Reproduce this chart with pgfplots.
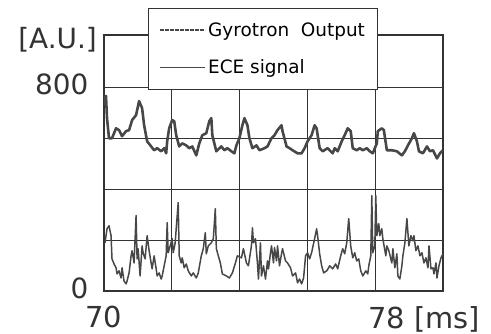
\documentclass[border=0pt]{standalone}
\usepackage{fontspec}
\setmainfont{DejaVu Sans}
\usepackage{pgfplots}
\pgfplotsset{compat=1.18}
\definecolor{trace}{gray}{0.28}
\definecolor{frame}{gray}{0.2}
\begin{document}
\begin{tikzpicture}
\useasboundingbox (-104bp,-43bp) rectangle (387bp,291bp);
\begin{axis}[
  at={(0,0)}, anchor=south west,
  width=339bp, height=256bp, scale only axis,
  clip mode=individual,
  xmin=70, xmax=78, ymin=0, ymax=1004,
  xtick={70,71.6,73.2,74.8,76.4,78},
  xticklabels={70,,,,,},
  ytick={0,200,400,600,800},
  yticklabels={0,,,,800},
  grid=major,
  major grid style={frame, line width=1.0pt},
  axis line style={frame, line width=1.6pt},
  major tick length=0pt,
  /pgf/number format/assume math mode=true,
  xticklabel style={font=\fontsize{29}{31}\selectfont, text=frame, anchor=base, yshift=-36bp},
  yticklabel style={font=\fontsize{28}{30}\selectfont, text=frame, xshift=-12bp, yshift=3bp},
  legend style={at={(rel axis cs:0.13,1.105)}, anchor=north west, draw=frame,
    line width=1.1pt, fill=white, font=\fontsize{18.5}{20}\selectfont,
    row sep=18bp, inner xsep=11bp, inner ysep=12bp},
  legend cell align=left,
  legend image code/.code={\draw[#1] (0bp,0bp) -- (45bp,0bp);},
]
\addplot[trace, line width=2.6pt, line join=round,
  legend image post style={line width=1.6pt, dash pattern=on 4bp off 1bp}] coordinates {
(70.000,729) (70.024,760) (70.047,765) (70.071,678) (70.118,599) (70.189,599)
(70.284,638) (70.355,631) (70.426,607) (70.521,627) (70.592,631) (70.663,670)
(70.757,690) (70.828,745) (70.899,717) (70.947,650) (71.018,587) (71.112,567)
(71.183,552) (71.254,560) (71.349,548) (71.420,560) (71.467,540) (71.491,587)
(71.538,638) (71.609,670) (71.657,666) (71.704,611) (71.775,567) (71.846,579)
(71.941,571) (72.012,560) (72.083,567) (72.178,532) (72.249,579) (72.320,611)
(72.414,619) (72.485,666) (72.533,678) (72.556,611) (72.651,548) (72.675,552)
(72.769,567) (72.840,552) (72.911,560) (73.006,548) (73.077,540) (73.124,571)
(73.195,599) (73.266,650) (73.314,678) (73.385,650) (73.432,599) (73.503,560)
(73.598,571) (73.669,552) (73.787,560) (73.858,567) (73.953,599) (74.024,611)
(74.095,631) (74.189,650) (74.213,627) (74.308,567) (74.379,560) (74.450,552)
(74.568,540) (74.663,540) (74.734,560) (74.805,587) (74.899,611) (74.970,650)
(75.018,638) (75.089,560) (75.160,548) (75.278,560) (75.325,552) (75.396,540)
(75.444,560) (75.515,548) (75.609,587) (75.680,611) (75.751,638) (75.822,627)
(75.870,560) (75.964,552) (76.036,560) (76.107,552) (76.201,560) (76.272,548)
(76.343,540) (76.438,579) (76.462,627) (76.556,638) (76.604,631) (76.675,552)
(76.793,552) (76.911,548) (77.030,532) (77.101,548) (77.172,571) (77.266,599)
(77.314,619) (77.385,587) (77.432,548) (77.527,540) (77.621,567) (77.692,548)
(77.763,552) (77.858,520) (77.929,540) (78.000,552)
};
\addlegendentry{Gyrotron\ \ Output}
\addplot[trace, line width=1.5pt, line join=round,
  legend image post style={line width=1.2pt}] coordinates {
(70.024,189) (70.071,244) (70.118,256) (70.166,217) (70.189,126) (70.237,106)
(70.284,91) (70.308,67) (70.355,79) (70.402,51) (70.426,91) (70.473,39)
(70.521,28) (70.544,39) (70.592,71) (70.639,138) (70.663,158) (70.710,110)
(70.757,296) (70.781,126) (70.805,166) (70.852,59) (70.899,177) (70.923,150)
(70.970,126) (71.018,217) (71.065,158) (71.112,110) (71.136,87) (71.183,138)
(71.231,87) (71.254,59) (71.302,71) (71.349,47) (71.373,59) (71.420,99)
(71.467,138) (71.491,268) (71.515,150) (71.562,177) (71.609,205) (71.633,150)
(71.680,189) (71.704,244) (71.751,347) (71.775,138) (71.822,110) (71.846,130)
(71.893,91) (71.941,106) (71.988,79) (72.059,59) (72.107,71) (72.178,51)
(72.225,71) (72.296,138) (72.343,166) (72.391,229) (72.414,146) (72.462,177)
(72.533,189) (72.580,205) (72.627,323) (72.651,166) (72.698,138) (72.746,110)
(72.793,67) (72.888,59) (72.959,51) (73.030,71) (73.101,110) (73.148,138)
(73.243,130) (73.290,166) (73.361,110) (73.408,99) (73.479,177) (73.503,248)
(73.527,189) (73.574,205) (73.621,110) (73.645,47) (73.692,189) (73.716,59)
(73.763,99) (73.811,47) (73.858,118) (73.882,87) (73.929,150) (73.953,177)
(74.000,110) (74.024,170) (74.071,118) (74.095,177) (74.142,99) (74.189,146)
(74.213,166) (74.284,118) (74.331,110) (74.402,91) (74.450,59) (74.521,71)
(74.568,32) (74.615,47) (74.663,28) (74.710,51) (74.757,138) (74.805,150)
(74.852,126) (74.899,150) (74.970,205) (75.018,244) (75.041,217) (75.089,146)
(75.136,99) (75.183,71) (75.254,79) (75.302,91) (75.325,99) (75.396,87)
(75.467,106) (75.515,87) (75.586,138) (75.633,166) (75.680,146) (75.728,189)
(75.775,284) (75.822,177) (75.870,130) (75.917,150) (75.964,118) (76.012,126)
(76.059,79) (76.107,59) (76.178,79) (76.225,67) (76.249,99) (76.296,138)
(76.320,374) (76.343,150) (76.391,177) (76.414,374) (76.438,217) (76.485,264)
(76.509,217) (76.556,244) (76.580,205) (76.651,138) (76.675,177) (76.722,158)
(76.793,110) (76.817,166) (76.864,91) (76.911,146) (76.935,59) (76.982,47)
(77.030,99) (77.053,138) (77.101,189) (77.148,284) (77.195,177) (77.243,217)
(77.290,197) (77.314,217) (77.361,158) (77.408,177) (77.456,138) (77.503,150)
(77.550,110) (77.598,130) (77.645,91) (77.669,177) (77.716,87) (77.763,91)
(77.787,67) (77.834,110) (77.858,51) (77.905,99) (77.953,130) (78.000,146)
};
\addlegendentry{ECE signal}
\node[anchor=east, font=\fontsize{28}{30}\selectfont, text=frame, inner sep=0pt]
  at (rel axis cs:0,0.98) [xshift=-7bp] {[A.U.]};
\node[anchor=base east, font=\fontsize{29}{31}\selectfont, text=frame, inner sep=0pt]
  at (rel axis cs:1,0) [xshift=37bp, yshift=-37bp] {78 [ms]};
\end{axis}
\end{tikzpicture}
\end{document}
